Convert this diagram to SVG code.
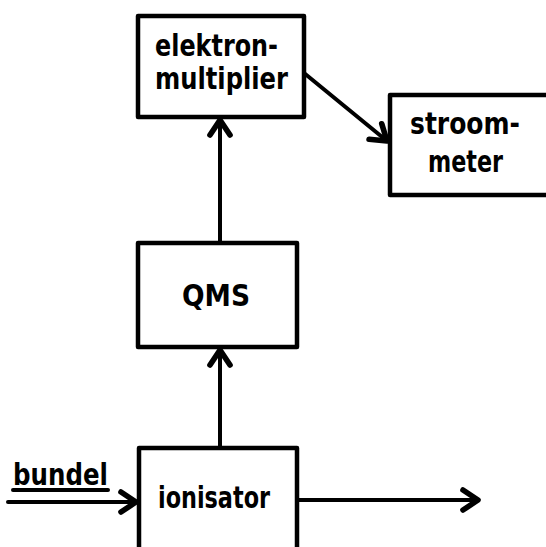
<svg xmlns="http://www.w3.org/2000/svg" width="546" height="547" viewBox="0 0 546 547">
<style>
.box{fill:#fff;stroke:#000;stroke-width:4.5;stroke-linejoin:round}
.lbl{font-family:"DejaVu Sans","Liberation Sans",sans-serif;font-size:30px;fill:#000;font-weight:bold}
.c{fill:none;stroke:#000;stroke-width:4;stroke-linecap:round}
</style>
<defs>
<marker id="ah" markerUnits="userSpaceOnUse" markerWidth="30" markerHeight="30" viewBox="-16 -12 20 24" refX="0" refY="0" orient="auto">
<path d="M-12,-8 L0,0 L-12,8" fill="none" stroke="#000" stroke-width="4.5" stroke-linecap="round" stroke-linejoin="round"/>
</marker>
</defs>
<rect width="546" height="547" fill="#fff"/>
<g id="connectors">
<line class="c" x1="8" y1="502" x2="136" y2="502" marker-end="url(#ah)"/>
<line class="c" x1="297" y1="500" x2="478" y2="500" marker-end="url(#ah)"/>
<line class="c" x1="220" y1="448" x2="220" y2="350" marker-end="url(#ah)"/>
<line class="c" x1="220" y1="243" x2="220" y2="120" marker-end="url(#ah)"/>
<line class="c" x1="304" y1="73" x2="387" y2="141" marker-end="url(#ah)"/>
<line class="c" x1="13" y1="490" x2="108" y2="490" stroke-width="3"/>
</g>
<g id="elektronmultiplier">
<rect class="box" x="138" y="16" width="166" height="101"/>
<text class="lbl" x="155" y="56" textLength="123" lengthAdjust="spacingAndGlyphs">elektron-</text>
<text class="lbl" x="155" y="89" textLength="133" lengthAdjust="spacingAndGlyphs">multiplier</text>
</g>
<g id="stroommeter">
<rect class="box" x="390" y="95" width="170" height="100"/>
<text class="lbl" x="410" y="134" textLength="110" lengthAdjust="spacingAndGlyphs">stroom-</text>
<text class="lbl" x="428" y="172" textLength="75" lengthAdjust="spacingAndGlyphs">meter</text>
</g>
<g id="qms">
<rect class="box" x="138" y="243" width="159" height="104"/>
<text class="lbl" x="182" y="306" textLength="68" lengthAdjust="spacingAndGlyphs">QMS</text>
</g>
<g id="ionisator">
<rect class="box" x="139" y="448" width="158" height="120"/>
<text class="lbl" x="158" y="508" textLength="112" lengthAdjust="spacingAndGlyphs">ionisator</text>
</g>
<g id="bundel">
<text class="lbl" x="13" y="485" textLength="95" lengthAdjust="spacingAndGlyphs">bundel</text>
</g>
</svg>
